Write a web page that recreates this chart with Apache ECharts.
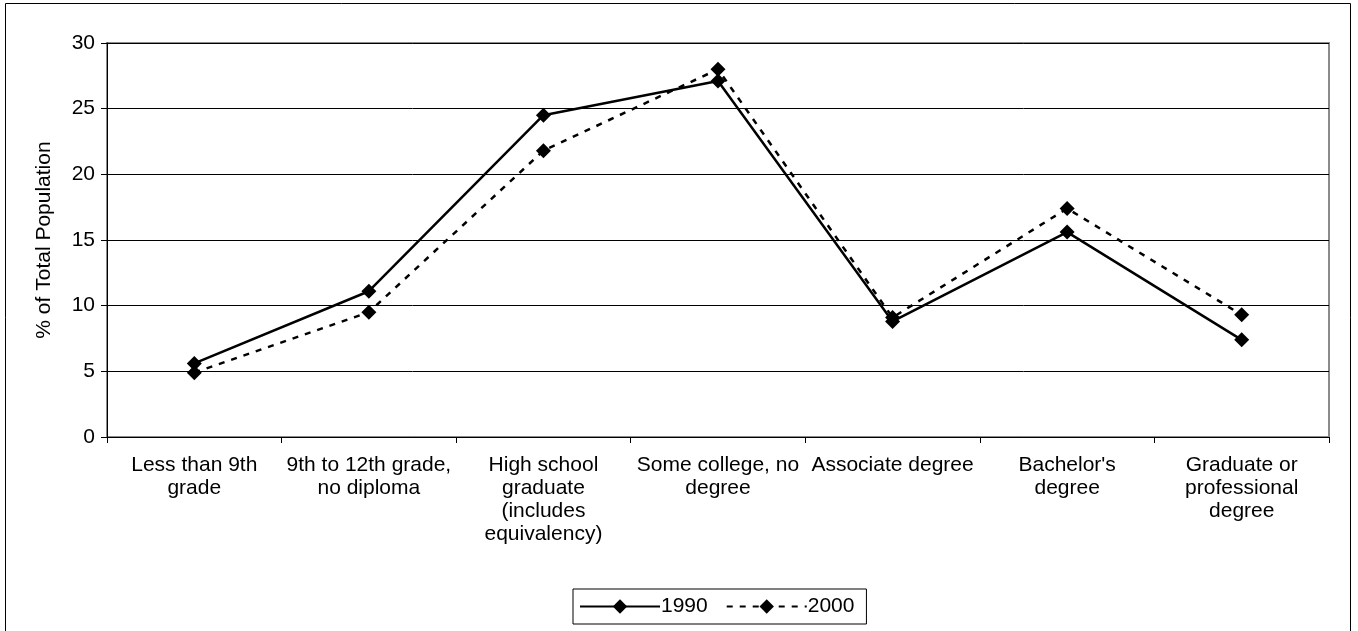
<!DOCTYPE html>
<html>
<head>
<meta charset="utf-8">
<script src="https://cdn.jsdelivr.net/npm/echarts@6/dist/echarts.min.js"></script>
<style>
html,body{margin:0;padding:0;background:#fff;}
#chart{width:1358px;height:631px;}
</style>
</head>
<body>
<div id="chart"></div>
<script>
var categories = [
  "Less than 9th\ngrade",
  "9th to 12th grade,\nno diploma",
  "High school\ngraduate\n(includes\nequivalency)",
  "Some college, no\ndegree",
  "Associate degree",
  "Bachelor's\ndegree",
  "Graduate or\nprofessional\ndegree"
];
var values1990 = [5.6, 11.1, 24.5, 27.1, 8.8, 15.6, 7.4];
var values2000 = [4.9, 9.5, 21.8, 28.0, 9.1, 17.4, 9.3];
var seriesNames = ["1990", "2000"];
var yTicks = { min: 0, max: 30, interval: 5 };
var yAxisTitle = "% of Total Population";

var FONT = "'Liberation Sans', Arial, sans-serif";
var chart = echarts.init(document.getElementById('chart'), null, {renderer: 'canvas'});
chart.setOption({
  backgroundColor: '#ffffff',
  animation: false,
  textStyle: { fontFamily: FONT, color: '#000' },
  graphic: [{
    type: 'rect', z: 0,
    shape: { x: 5.5, y: 3.5, width: 1345, height: 660 },
    style: { fill: 'none', stroke: '#000', lineWidth: 1 }
  }],
  grid: {
    left: 107, right: 29, top: 43, bottom: 194,
    show: true, borderColor: '#8a8a8a', borderWidth: 2, backgroundColor: 'transparent'
  },
  legend: {
    data: seriesNames,
    left: 573, top: 589,
    borderColor: '#000', borderWidth: 1,
    padding: [7, 12, 7, 6],
    itemWidth: 80, itemHeight: 18, itemGap: 18,
    textStyle: { fontFamily: FONT, fontSize: 21, color: '#000', padding: [0, 0, 0, -4] }
  },
  xAxis: {
    type: 'category',
    data: categories,
    boundaryGap: true,
    axisLine: { lineStyle: { color: '#000', width: 1 } },
    axisTick: { show: true, alignWithLabel: false, length: 6, lineStyle: { color: '#000' } },
    axisLabel: { fontFamily: FONT, fontSize: 21, lineHeight: 23, color: '#000', margin: 17, interval: 0 },
    splitLine: { show: false }
  },
  yAxis: {
    type: 'value',
    min: yTicks.min, max: yTicks.max, interval: yTicks.interval,
    name: yAxisTitle,
    nameLocation: 'middle',
    nameGap: 52,
    nameTextStyle: { fontFamily: FONT, fontSize: 21, color: '#000' },
    axisLine: { show: true, lineStyle: { color: '#000', width: 1 } },
    axisTick: { show: true, length: 6, lineStyle: { color: '#000' } },
    axisLabel: { fontFamily: FONT, fontSize: 21, color: '#000', margin: 12 },
    splitLine: { show: true, lineStyle: { color: '#000', width: 1 } }
  },
  series: [
    {
      name: seriesNames[0], type: 'line', data: values1990, z: 4,
      symbol: 'diamond', symbolSize: 15, showAllSymbol: true,
      itemStyle: { color: '#000' },
      lineStyle: { color: '#000', width: 2.5, type: 'solid' }
    },
    {
      name: seriesNames[1], type: 'line', data: values2000, z: 3,
      symbol: 'diamond', symbolSize: 15, showAllSymbol: true,
      itemStyle: { color: '#000' },
      lineStyle: { color: '#000', width: 2.5, type: [6, 7] }
    }
  ]
});
</script>
</body>
</html>
